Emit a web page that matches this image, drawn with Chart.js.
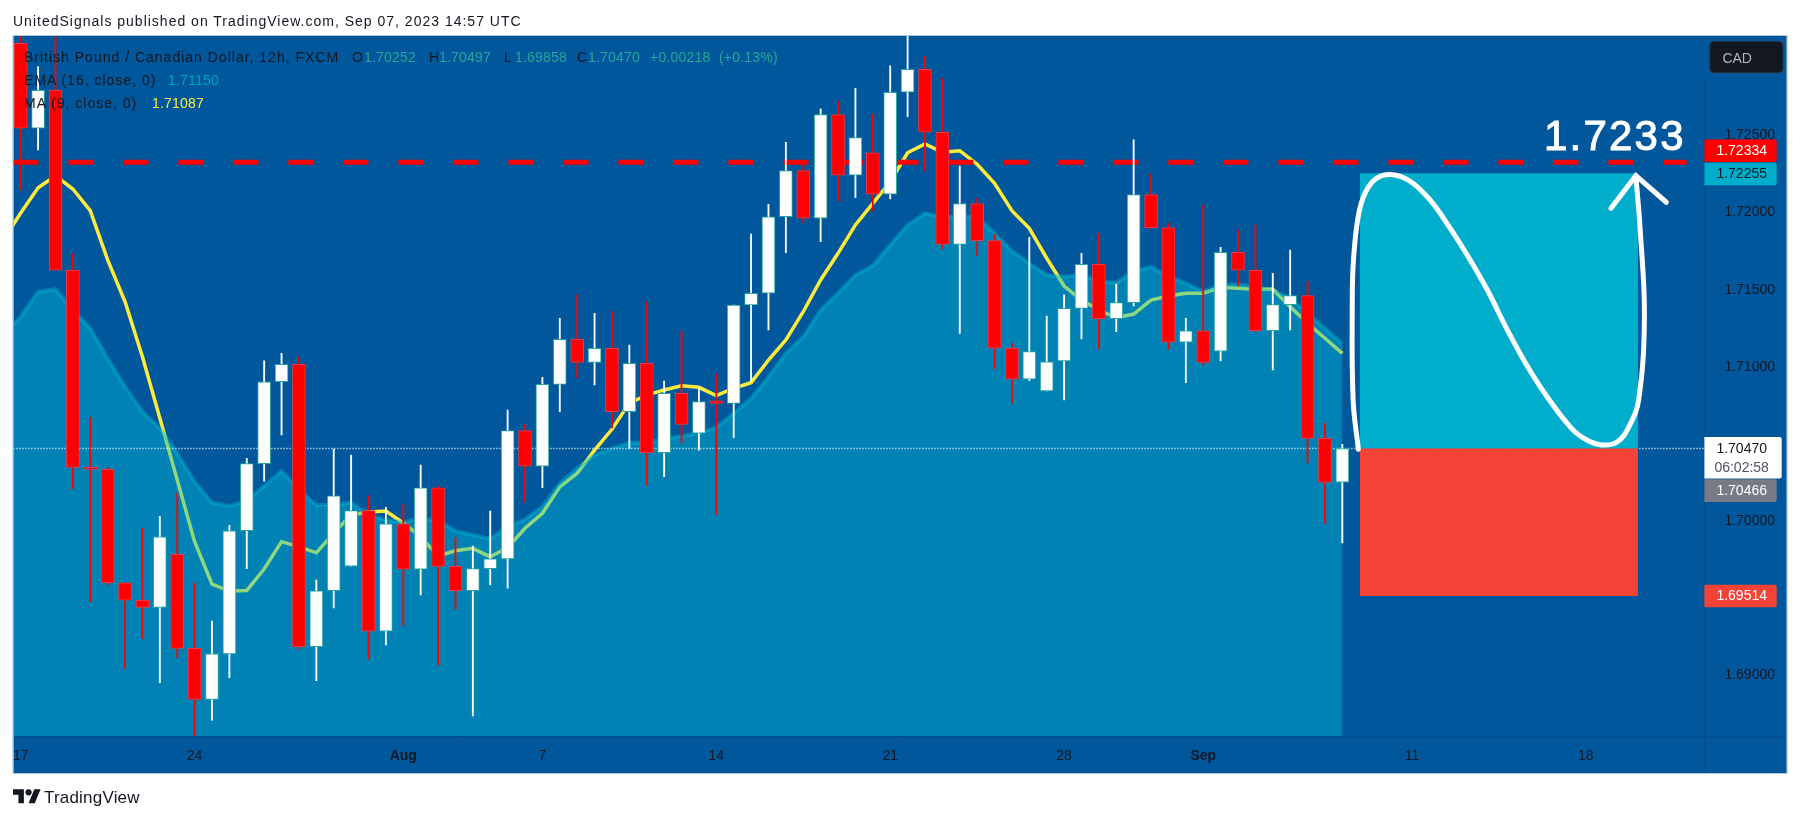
<!DOCTYPE html>
<html>
<head>
<meta charset="utf-8">
<title>GBPCAD 12h</title>
<script src="https://cdn.jsdelivr.net/npm/chart.js@4/dist/chart.umd.min.js"></script>
<style>
    html, body { margin: 0; padding: 0; background: #fff; }
    body { width: 1803px; height: 821px; position: relative; overflow: hidden; font-family: "Liberation Sans", sans-serif; }
    canvas { position: absolute; left: 0; top: 0; }
    .txt { position: absolute; white-space: nowrap; color: #131722; font-size: 14px; line-height: 18px; letter-spacing: 1px; }
    .txt span { position: absolute; top: 0; letter-spacing: 0.2px; }
    .val { color: #26a69a; }
    #brand { left: 44px; top: 787px; font-size: 17px; line-height: 22px; letter-spacing: 0.2px; color: #131722; }
    #logo { position: absolute; left: 13px; top: 785px; }
</style>
</head>
<body>
<canvas id="chart" width="1803" height="821"></canvas>
<div class="txt" style="left:13px;top:12px">UnitedSignals published on TradingView.com, Sep 07, 2023 14:57 UTC</div>
<div class="txt" style="left:24px;top:48px;width:800px">British Pound / Canadian Dollar, 12h, FXCM<span style="left:328px">O</span><span class="val" style="left:340px">1.70252</span><span style="left:405px">H</span><span class="val" style="left:415px">1.70497</span><span style="left:480px">L</span><span class="val" style="left:491px">1.69858</span><span style="left:553px">C</span><span class="val" style="left:564px">1.70470</span><span class="val" style="left:626px">+0.00218</span><span class="val" style="left:695px">(+0.13%)</span></div>
<div class="txt" style="left:24px;top:71px">EMA (16, close, 0)<span style="left:144px;color:#00a5c0">1.71150</span></div>
<div class="txt" style="left:24px;top:94px">MA (9, close, 0)<span style="left:128px;color:#ffeb3b">1.71087</span></div>
<svg id="logo" width="28" height="24" viewBox="0 0 36 28"><path d="M14 22H7V11H0V4h14v18zM28 22h-8l7.5-18h8L28 22z" fill="#131722"></path><circle cx="20" cy="8" r="4" fill="#131722"></circle></svg>
<div class="txt" id="brand">TradingView</div>
<script>
const opens = [1.73098, 1.72547, 1.72793, 1.71626, 1.70348, 1.70335, 1.69600, 1.69486, 1.69440, 1.69784, 1.69174, 1.68844, 1.69139, 1.69937, 1.70372, 1.70903, 1.71016, 1.69185, 1.69548, 1.69708, 1.70067, 1.69285, 1.69982, 1.69687, 1.70216, 1.69706, 1.69548, 1.69691, 1.69755, 1.70586, 1.70355, 1.70886, 1.71178, 1.71029, 1.71120, 1.70709, 1.71023, 1.70443, 1.70828, 1.70569, 1.70780, 1.70763, 1.71401, 1.71477, 1.71973, 1.72272, 1.71963, 1.72635, 1.72242, 1.72388, 1.72119, 1.72780, 1.72929, 1.72521, 1.71794, 1.72058, 1.71818, 1.71120, 1.70919, 1.70843, 1.71038, 1.71379, 1.71665, 1.71312, 1.71416, 1.72116, 1.71902, 1.71159, 1.71234, 1.71102, 1.71742, 1.71626, 1.71234, 1.71403, 1.71461, 1.70536, 1.70252];
const closes = [1.72547, 1.72793, 1.71626, 1.70348, 1.70335, 1.69600, 1.69486, 1.69440, 1.69898, 1.69174, 1.68844, 1.69139, 1.69937, 1.70372, 1.70903, 1.71016, 1.69185, 1.69548, 1.70164, 1.70067, 1.69285, 1.69982, 1.69687, 1.70216, 1.69706, 1.69548, 1.69691, 1.69755, 1.70586, 1.70355, 1.70886, 1.71178, 1.71029, 1.71120, 1.70709, 1.71023, 1.70443, 1.70828, 1.70627, 1.70774, 1.70763, 1.71401, 1.71477, 1.71973, 1.72272, 1.71963, 1.72635, 1.72242, 1.72486, 1.72119, 1.72780, 1.72929, 1.72521, 1.71794, 1.72058, 1.71818, 1.71120, 1.70919, 1.71098, 1.71033, 1.71379, 1.71665, 1.71312, 1.71416, 1.72116, 1.71902, 1.71159, 1.71234, 1.71029, 1.71742, 1.71626, 1.71234, 1.71403, 1.71461, 1.70536, 1.70251, 1.70470];
const highs = [1.7325, 1.72946, 1.7318, 1.71731, 1.70672, 1.70345, 1.69600, 1.69955, 1.70030, 1.70180, 1.69598, 1.69351, 1.69972, 1.70407, 1.71038, 1.71088, 1.71062, 1.69617, 1.70467, 1.70428, 1.70164, 1.70089, 1.70110, 1.70363, 1.70227, 1.69892, 1.69838, 1.70065, 1.70720, 1.70629, 1.70932, 1.71315, 1.71466, 1.71347, 1.71360, 1.71141, 1.71420, 1.70908, 1.71228, 1.70862, 1.70953, 1.71401, 1.71861, 1.72054, 1.72456, 1.72322, 1.72672, 1.72722, 1.72806, 1.72639, 1.72951, 1.7318, 1.73011, 1.72871, 1.72302, 1.72093, 1.71859, 1.71152, 1.71840, 1.71329, 1.71466, 1.71736, 1.71866, 1.71537, 1.72471, 1.72250, 1.71931, 1.71315, 1.72049, 1.71775, 1.71887, 1.71920, 1.71606, 1.71757, 1.71552, 1.70634, 1.70497];
const lows = [1.72147, 1.72406, 1.71626, 1.70208, 1.69477, 1.69585, 1.69042, 1.69237, 1.68951, 1.69116, 1.68606, 1.68709, 1.68984, 1.69691, 1.70259, 1.70558, 1.69170, 1.68964, 1.69436, 1.69708, 1.69105, 1.69196, 1.69319, 1.69520, 1.69066, 1.69429, 1.68737, 1.69585, 1.69565, 1.70125, 1.70216, 1.70709, 1.70929, 1.70882, 1.70603, 1.70471, 1.70233, 1.70287, 1.70504, 1.70460, 1.70043, 1.70540, 1.70903, 1.71239, 1.71740, 1.71934, 1.71811, 1.72075, 1.72097, 1.72010, 1.72088, 1.72622, 1.72270, 1.71764, 1.71217, 1.71720, 1.70986, 1.70767, 1.70910, 1.70843, 1.70785, 1.71180, 1.71115, 1.71228, 1.71394, 1.71894, 1.71115, 1.70897, 1.71012, 1.71038, 1.71524, 1.71228, 1.70979, 1.71239, 1.70378, 1.69982, 1.69858];

// both averages start one bar before the first candle so they run off the left edge
const maValues = [1.71821, 1.71997, 1.72161, 1.72239, 1.72153, 1.72012, 1.71693, 1.71422, 1.71065, 1.70668, 1.70266, 1.69866, 1.69591, 1.69546, 1.69550, 1.69689, 1.69866, 1.69833, 1.69794, 1.69922, 1.70039, 1.70058, 1.70065, 1.69987, 1.69898, 1.69773, 1.69807, 1.69823, 1.69768, 1.69827, 1.69953, 1.70050, 1.70222, 1.70309, 1.70460, 1.70595, 1.70765, 1.70817, 1.70850, 1.70877, 1.70867, 1.70813, 1.70861, 1.70897, 1.71044, 1.71174, 1.71357, 1.71563, 1.71736, 1.71920, 1.72060, 1.72200, 1.72388, 1.72445, 1.72391, 1.72401, 1.72313, 1.72190, 1.72012, 1.71898, 1.71704, 1.71524, 1.71433, 1.71368, 1.71318, 1.71342, 1.71433, 1.71459, 1.71477, 1.71477, 1.71516, 1.71509, 1.71503, 1.71503, 1.71390, 1.71282, 1.71185, 1.71087];
const emaValues = [1.71205, 1.71325, 1.71487, 1.71503, 1.71368, 1.71250, 1.71055, 1.70871, 1.70709, 1.70601, 1.70439, 1.70255, 1.70119, 1.70097, 1.70132, 1.70227, 1.70324, 1.70201, 1.70104, 1.70106, 1.70119, 1.70039, 1.70006, 1.69992, 1.70017, 1.70002, 1.69935, 1.69909, 1.69883, 1.69963, 1.70011, 1.70093, 1.70244, 1.70342, 1.70428, 1.70471, 1.70508, 1.70508, 1.70530, 1.70551, 1.70569, 1.70608, 1.70698, 1.70796, 1.70936, 1.71088, 1.71195, 1.71368, 1.71477, 1.71595, 1.71656, 1.71790, 1.71920, 1.71995, 1.71973, 1.71973, 1.71973, 1.71866, 1.71751, 1.71671, 1.71595, 1.71584, 1.71595, 1.71556, 1.71545, 1.71617, 1.71649, 1.71584, 1.71541, 1.71487, 1.71530, 1.71535, 1.71516, 1.71498, 1.71444, 1.71347, 1.71250, 1.71150];

const priceTicks = [1.69, 1.70, 1.71, 1.715, 1.72, 1.725];
const timeTickBars = [0, 10, 22, 30, 40, 50, 60, 68, 80, 90];
const timeTickLabels = ['17', '24', 'Aug', '7', '14', '21', '28', 'Sep', '11', '18'];

const lastPrice = 1.70470;
const targetTag = 1.72334;
const targetLine = 1.72326;
const boxStartBar = 77;
const boxEndBar = 93;
const boxTarget = 1.72255;
const boxEntry = 1.70470;
const boxStop = 1.69514;

// hand drawn path over the position box, in bar / price
const pathBars = [76.92, 76.62, 76.57, 76.64, 76.91, 77.30, 77.96, 78.91, 79.94, 81.04, 82.14, 83.24, 84.34, 85.44, 86.54, 87.64, 89.18, 90.06, 90.94, 91.82, 92.48, 93.04, 93.37, 93.14, 92.88];
const pathPrices = [1.70465, 1.70785, 1.71433, 1.71693, 1.71973, 1.72125, 1.72222, 1.72246, 1.72200, 1.72082, 1.71909, 1.71714, 1.71498, 1.71250, 1.71023, 1.70828, 1.70601, 1.70525, 1.70493, 1.70514, 1.70612, 1.70785, 1.71325, 1.71868, 1.72239];
const arrowBars = [91.45, 92.88, 94.63];
const arrowPrices = [1.72028, 1.72239, 1.72067];

const xMin = -0.42;
const xMax = 96.82;
const yMin = 1.68606;
const yMax = 1.73145;

const barColor = (i, up, down) => (closes[i] >= opens[i] ? up : down);

const bodies = opens.map((o, i) => ({ x: i, y: [o, closes[i]] }));
const wicks = lows.map((l, i) => ({ x: i, y: [l, highs[i]] }));

const framePlugin = {
    id: 'frame',
    beforeDraw(chart) {
        const { ctx, chartArea } = chart;
        const xAxis = chart.scales.x;
        const yAxis = chart.scales.y;
        ctx.save();
        ctx.fillStyle = '#00579b';
        ctx.fillRect(chartArea.left, chartArea.top, yAxis.right - chartArea.left, xAxis.bottom - chartArea.top);
        ctx.restore();
    },
    afterDraw(chart) {
        const { ctx, chartArea } = chart;
        const xAxis = chart.scales.x;
        const yAxis = chart.scales.y;
        ctx.save();

        // axis separators and outer border
        ctx.strokeStyle = 'rgba(19,23,34,0.15)';
        ctx.lineWidth = 1;
        ctx.beginPath();
        ctx.moveTo(chartArea.left, chartArea.bottom + 0.5);
        ctx.lineTo(yAxis.right, chartArea.bottom + 0.5);
        ctx.moveTo(chartArea.right + 0.5, yAxis.getPixelForValue(1.7285));
        ctx.lineTo(chartArea.right + 0.5, xAxis.bottom);
        ctx.stroke();
        ctx.strokeStyle = '#b4c8dc';
        ctx.strokeRect(chartArea.left - 0.5, chartArea.top - 0.5, yAxis.right - chartArea.left + 1, xAxis.bottom - chartArea.top + 1);

        // big target label
        ctx.fillStyle = '#fff';
        ctx.strokeStyle = '#fff';
        ctx.lineWidth = 1;
        ctx.font = '42px "Liberation Sans"';
        ctx.letterSpacing = '2.2px';
        ctx.textBaseline = 'alphabetic';
        ctx.textAlign = 'left';
        const bigX = xAxis.getPixelForValue(87.6);
        const bigY = yAxis.getPixelForValue(1.72405);
        ctx.fillText('1.7233', bigX, bigY);
        ctx.strokeText('1.7233', bigX, bigY);
        ctx.letterSpacing = '0px';

        // price tags on the axis
        const tags = [
            { price: targetTag, text: '1.72334', bg: '#ff0000', fg: '#fff', shift: -10.3 },
            { price: boxTarget, text: '1.72255', bg: '#00aecb', fg: '#131722', shift: 0.8 },
            { price: 1.70466, text: '1.70466', bg: '#787b86', fg: '#fff', shift: 41.5 },
            { price: boxStop, text: '1.69514', bg: '#f44336', fg: '#fff', shift: 0 }
        ];
        const left = chartArea.right;
        ctx.font = '14px "Liberation Sans"';
        ctx.textBaseline = 'middle';
        tags.forEach(tag => {
            const mid = yAxis.getPixelForValue(tag.price) + tag.shift;
            ctx.fillStyle = tag.bg;
            ctx.beginPath();
            ctx.roundRect(left, mid - 11.3, 72.3, 22.6, [0, 2, 2, 0]);
            ctx.fill();
            ctx.fillStyle = tag.fg;
            ctx.fillText(tag.text, left + 12, mid + 0.5);
        });

        // last price tag with countdown
        const lastY = yAxis.getPixelForValue(lastPrice);
        ctx.fillStyle = '#fff';
        ctx.beginPath();
        ctx.roundRect(left, lastY - 11.5, 77.3, 41.5, [0, 2, 2, 0]);
        ctx.fill();
        ctx.fillStyle = '#131722';
        ctx.fillText('1.70470', left + 12, lastY + 1);
        ctx.fillStyle = '#50535e';
        ctx.fillText('06:02:58', left + 10, lastY + 20);

        // currency button
        ctx.fillStyle = '#131722';
        ctx.strokeStyle = '#2a2e39';
        ctx.beginPath();
        ctx.roundRect(left + 5.5, 41.5, 73, 31, 4);
        ctx.fill();
        ctx.stroke();
        ctx.fillStyle = '#b2b5be';
        ctx.fillText('CAD', left + 18, 59);
        ctx.restore();
    }
};

const lineBase = { type: 'line', pointRadius: 0, tension: 0, fill: false };

new Chart(document.getElementById('chart'), {
    type: 'bar',
    data: {
        datasets: [
            {
                ...lineBase,
                label: 'MA 9',
                data: maValues.map((v, i) => ({ x: i - 1, y: v })),
                borderColor: '#ffeb3b',
                borderWidth: 3.5,
                order: 10
            },
            {
                ...lineBase,
                label: 'EMA 16',
                data: emaValues.map((v, i) => ({ x: i - 1, y: v })),
                borderColor: 'rgba(0,188,212,0.4)',
                backgroundColor: 'rgba(0,188,212,0.44)',
                borderWidth: 4,
                fill: 'start',
                order: 9
            },
            {
                ...lineBase,
                label: 'Target',
                data: [{ x: xMin, y: targetLine }, { x: 95.8, y: targetLine }],
                borderColor: '#ff0000',
                borderWidth: 5,
                borderDash: [25, 30],
                order: 8
            },
            {
                ...lineBase,
                label: 'Last',
                data: [{ x: xMin, y: lastPrice }, { x: xMax, y: lastPrice }],
                borderColor: '#ffffff',
                borderWidth: 1.5,
                borderDash: [1, 2],
                order: 7
            },
            {
                label: 'Wicks',
                data: wicks,
                backgroundColor: wicks.map((w, i) => barColor(i, '#ffffff', '#ff0000')),
                barThickness: 1.2,
                grouped: false,
                order: 6
            },
            {
                label: 'Bodies',
                data: bodies,
                backgroundColor: bodies.map((b, i) => barColor(i, '#ffffff', '#ff0000')),
                borderColor: bodies.map((b, i) => barColor(i, '#26a69a', '#f23645')),
                borderWidth: 1,
                borderSkipped: false,
                barThickness: 13,
                minBarLength: 2,
                grouped: false,
                order: 5
            },
            {
                ...lineBase,
                label: 'Reward',
                data: [{ x: boxStartBar, y: boxTarget }, { x: boxEndBar, y: boxTarget }],
                borderWidth: 0,
                backgroundColor: '#00aecb',
                fill: { value: boxEntry },
                order: 4
            },
            {
                ...lineBase,
                label: 'Risk',
                data: [{ x: boxStartBar, y: boxEntry }, { x: boxEndBar, y: boxEntry }],
                borderWidth: 0,
                backgroundColor: '#f44336',
                fill: { value: boxStop },
                order: 3
            },
            {
                ...lineBase,
                label: 'Path',
                data: pathBars.map((b, i) => ({ x: b, y: pathPrices[i] })),
                borderColor: '#ffffff',
                borderWidth: 5,
                tension: 0.4,
                borderCapStyle: 'round',
                order: 2
            },
            {
                ...lineBase,
                label: 'Arrow',
                data: arrowBars.map((b, i) => ({ x: b, y: arrowPrices[i] })),
                borderColor: '#ffffff',
                borderWidth: 5,
                borderCapStyle: 'round',
                borderJoinStyle: 'miter',
                order: 1
            }
        ]
    },
    options: {
        responsive: false,
        animation: false,
        devicePixelRatio: 1,
        events: [],
        layout: { padding: { left: 13.4, right: 16.3, top: 36, bottom: 48 } },
        plugins: { legend: { display: false }, tooltip: { enabled: false } },
        scales: {
            x: {
                type: 'linear',
                offset: false,
                min: xMin,
                max: xMax,
                grid: { display: false },
                border: { display: false },
                afterFit: scale => { scale.height = 37; },
                afterBuildTicks: scale => { scale.ticks = timeTickBars.map(v => ({ value: v })); },
                ticks: {
                    autoSkip: false,
                    maxRotation: 0,
                    padding: 3.5,
                    color: '#131722',
                    font: ctx => ({
                        family: '"Liberation Sans"',
                        size: 14,
                        weight: ctx.index === 2 || ctx.index === 7 ? 'bold' : 'normal'
                    }),
                    callback: (value, index) => timeTickLabels[index]
                }
            },
            y: {
                position: 'right',
                min: yMin,
                max: yMax,
                grid: { display: false },
                border: { display: false },
                afterFit: scale => { scale.width = 82.3; },
                afterBuildTicks: scale => { scale.ticks = priceTicks.map(v => ({ value: v })); },
                ticks: {
                    autoSkip: false,
                    padding: 12,
                    color: '#131722',
                    font: { family: '"Liberation Sans"', size: 14 },
                    callback: value => value.toFixed(5)
                }
            }
        }
    },
    plugins: [framePlugin]
});
</script>
</body>
</html>
